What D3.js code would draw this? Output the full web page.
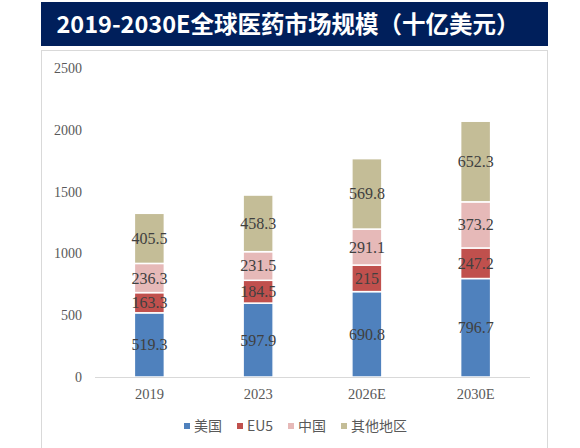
<!DOCTYPE html>
<html>
<head>
<meta charset="utf-8">
<script src="https://cdn.jsdelivr.net/npm/d3@7"></script>
<style>
  body { margin: 0; background: #fff; }
</style>
</head>
<body>
<svg id="chart" width="580" height="448"></svg>
<script>
var years = ['2019', '2023', '2026E', '2030E'];
var seriesNames = ['美国', 'EU5', '中国', '其他地区'];
var usa = [519.3, 597.9, 690.8, 796.7];
var eu5 = [163.3, 184.5, 215, 247.2];
var china = [236.3, 231.5, 291.1, 373.2];
var other = [405.5, 458.3, 569.8, 652.3];
var yTicks = [0, 500, 1000, 1500, 2000, 2500];
var colors = ['#4f81bd', '#c0504d', '#e6b9b8', '#c4bd97'];

var svg = d3.select('#chart');

// title banner
svg.append('rect').attr('x', 41).attr('y', 2).attr('width', 507).attr('height', 44)
  .attr('fill', '#001f5b');
svg.append('text').attr('x', 288).attr('y', 33)
  .attr('text-anchor', 'middle')
  .attr('fill', 'white')
  .attr('font-family', 'Noto Sans CJK SC, sans-serif')
  .attr('font-weight', 'bold')
  .attr('font-size', 23.5)
  .text('2019-2030E全球医药市场规模（十亿美元）');

// chart panel
svg.append('rect').attr('x', 41.5).attr('y', 50.5).attr('width', 506).attr('height', 410)
  .attr('fill', 'white').attr('stroke', '#d9d9d9');

var table = years.map(function(y, i) {
  return { year: y, '美国': usa[i], 'EU5': eu5[i], '中国': china[i], '其他地区': other[i] };
});
var stacked = d3.stack().keys(seriesNames)(table);

var x = d3.scaleBand().domain(years).range([95, 530]).paddingInner(0.724).paddingOuter(0.362);
var y = d3.scaleLinear().domain([0, 2500]).range([377, 68]);

// y tick labels
svg.append('g').selectAll('text').data(yTicks).enter().append('text')
  .attr('x', 82).attr('y', function(d) { return y(d) + 5; })
  .attr('text-anchor', 'end')
  .attr('font-family', 'Liberation Serif, serif')
  .attr('font-size', 14)
  .attr('fill', '#595959')
  .text(function(d) { return d; });

// bars
var groups = svg.append('g').selectAll('g').data(stacked).enter().append('g')
  .attr('fill', function(d, i) { return colors[i]; });
groups.selectAll('rect').data(function(d) { return d; }).enter().append('rect')
  .attr('x', function(d) { return x(d.data.year); })
  .attr('width', x.bandwidth())
  .attr('y', function(d) { return y(d[1]); })
  .attr('height', function(d) { return y(d[0]) - y(d[1]); })
  .attr('stroke', 'white')
  .attr('stroke-width', 1.5);

// value labels
groups.each(function(s) {
  d3.select(this).selectAll('text').data(s).enter().append('text')
    .attr('x', function(d) { return x(d.data.year) + x.bandwidth() / 2; })
    .attr('y', function(d) { return (y(d[0]) + y(d[1])) / 2 + 5.5; })
    .attr('text-anchor', 'middle')
    .attr('font-family', 'Liberation Serif, serif')
    .attr('font-size', 16)
    .attr('fill', '#404040')
    .text(function(d) { return d.data[s.key]; });
});

// x axis line
svg.append('line').attr('x1', 95).attr('x2', 530).attr('y1', 377.5).attr('y2', 377.5)
  .attr('stroke', '#d9d9d9');

// x labels
svg.append('g').selectAll('text').data(years).enter().append('text')
  .attr('x', function(d) { return x(d) + x.bandwidth() / 2; })
  .attr('y', 399)
  .attr('text-anchor', 'middle')
  .attr('font-family', 'Liberation Serif, serif')
  .attr('font-size', 14.5)
  .attr('fill', '#595959')
  .text(function(d) { return d; });

// legend
var legendX = [184, 237, 288, 341];
var legend = svg.append('g').selectAll('g').data(seriesNames).enter().append('g')
  .attr('transform', function(d, i) { return 'translate(' + legendX[i] + ',426)'; });
legend.append('rect').attr('x', 0).attr('y', -3).attr('width', 6).attr('height', 6)
  .attr('fill', function(d, i) { return colors[i]; });
legend.append('text').attr('x', 10).attr('y', 5)
  .attr('font-family', 'Noto Sans CJK SC, sans-serif')
  .attr('font-size', 14)
  .attr('fill', '#595959')
  .text(function(d) { return d; });
</script>
</body>
</html>
